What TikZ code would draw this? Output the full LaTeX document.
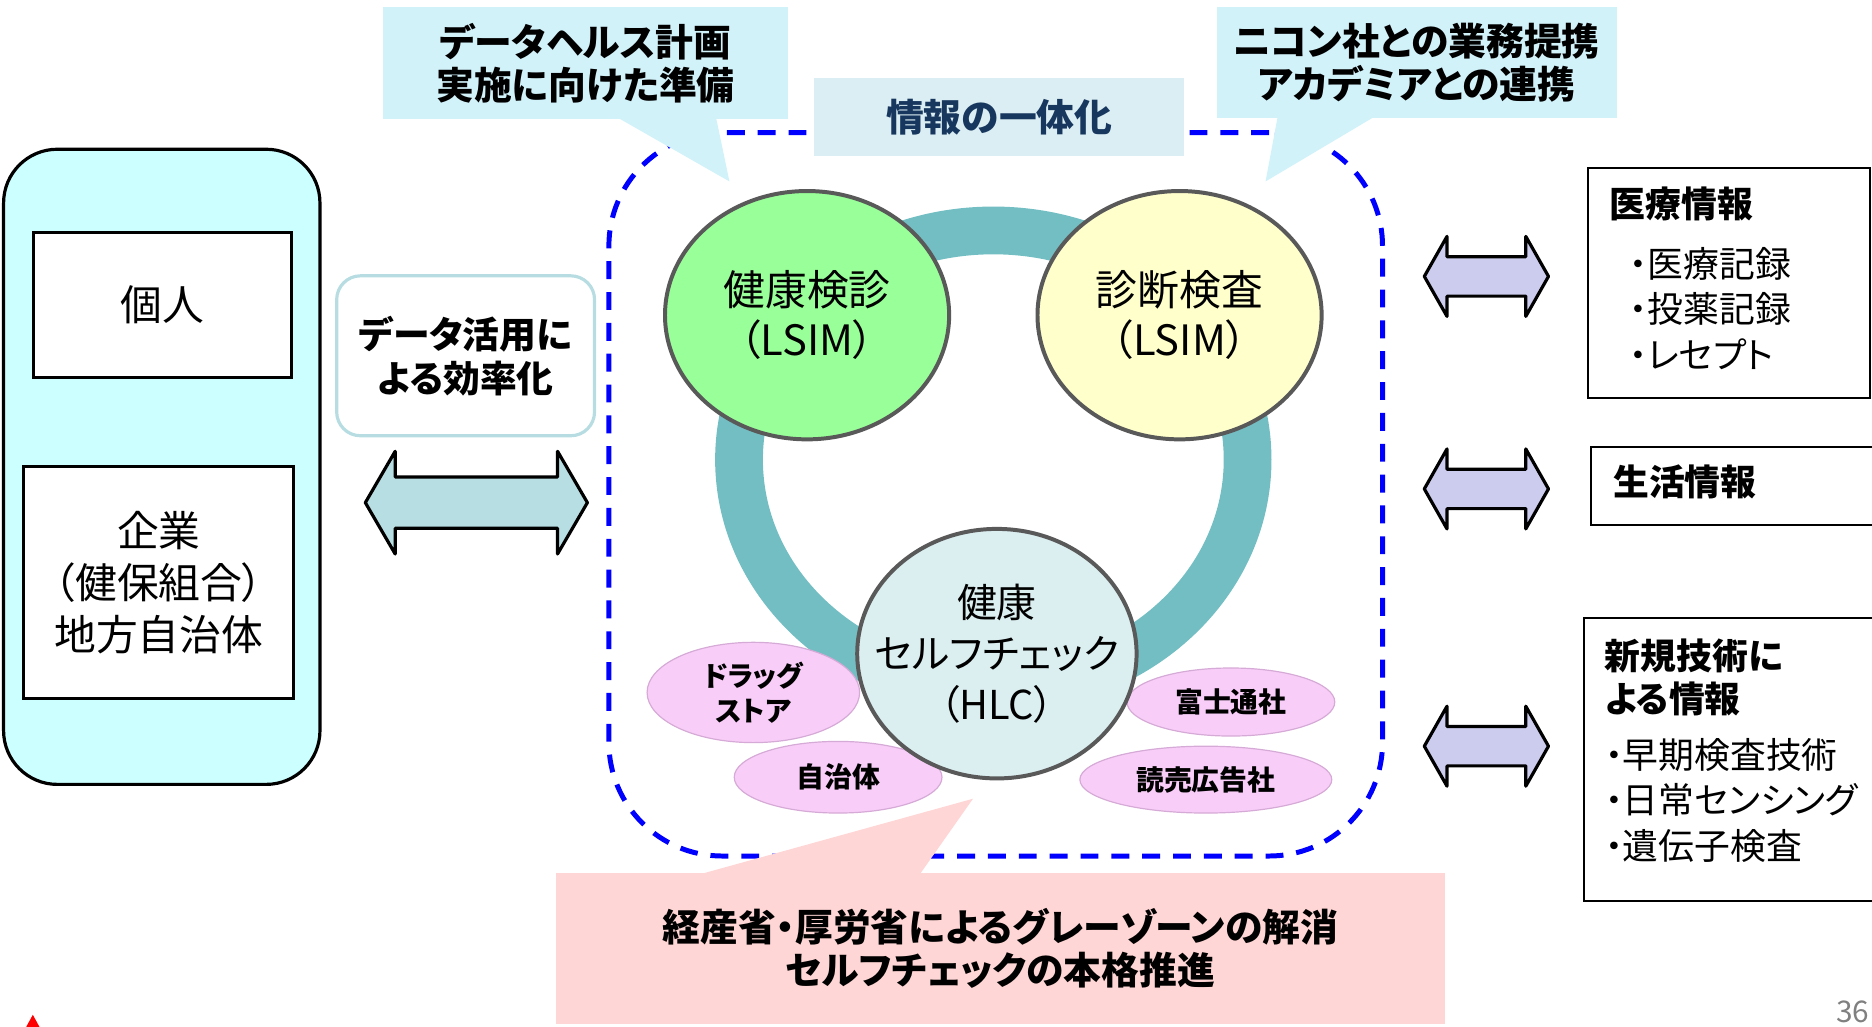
\documentclass[tikz,border=0pt]{standalone}
\usepackage{fontspec}
\setmainfont{Noto Sans CJK JP}[RawFeature=+palt]
\usetikzlibrary{positioning, shapes.geometric}

\definecolor{panelcyan}{RGB}{204,255,255}
\definecolor{callblue}{RGB}{210,242,250}
\definecolor{callpink}{RGB}{255,214,214}
\definecolor{infofill}{RGB}{219,238,243}
\definecolor{infotext}{RGB}{23,55,94}
\definecolor{ringteal}{RGB}{115,190,195}
\definecolor{lsimgreen}{RGB}{153,255,153}
\definecolor{lsimyellow}{RGB}{255,255,204}
\definecolor{hlcfill}{RGB}{219,238,240}
\definecolor{ovalfill}{RGB}{248,206,248}
\definecolor{ovaldraw}{RGB}{214,170,214}
\definecolor{arrowteal}{RGB}{183,222,226}
\definecolor{arrowlav}{RGB}{204,204,238}
\definecolor{softborder}{RGB}{183,221,226}
\definecolor{darkgray1}{RGB}{89,89,89}

\tikzset{
  panel1/.style = {
    shape = rectangle,
    draw = black,
    line width = 1.6pt,
    fill = panelcyan,
    rounded corners = 27pt,
  }
}
\tikzset{
  rect1/.style = {
    shape = rectangle,
    draw = black,
    line width = 1.6pt,
    fill = white,
    align = center,
    font = \fontsize{21}{26.1}\selectfont,
  }
}
\tikzset{
  rect2/.style = {
    shape = rectangle,
    draw = black,
    line width = 1pt,
    fill = white,
  }
}
\tikzset{
  rect3/.style = {
    shape = rectangle,
    draw = softborder,
    line width = 1.6pt,
    fill = white,
    rounded corners = 12pt,
    align = center,
    font = \bfseries\fontsize{18.5}{22.2}\selectfont,
  }
}
\tikzset{
  frame1/.style = {
    shape = rectangle,
    draw = blue,
    line width = 2.5pt,
    dash pattern = on 9pt off 6.5pt,
    rounded corners = 57pt,
  }
}
\tikzset{
  ring1/.style = {
    shape = ellipse,
    draw = ringteal,
    line width = 24pt,
  }
}
\tikzset{
  circle1/.style = {
    shape = ellipse,
    draw = darkgray1,
    line width = 2pt,
    align = center,
    inner sep = 0pt,
    font = \fontsize{21}{25.2}\selectfont,
  }
}
\tikzset{
  oval1/.style = {
    shape = ellipse,
    draw = ovaldraw,
    line width = 0.6pt,
    fill = ovalfill,
    align = center,
    inner sep = 0pt,
    font = \bfseries\fontsize{14}{17.4}\selectfont,
  }
}
\tikzset{
  call1/.style = {
    shape = rectangle,
    fill = callblue,
    align = center,
    font = \bfseries\fontsize{19}{21.6}\selectfont,
  }
}
\tikzset{
  text1/.style = {align = center, inner sep = 0pt, font = \fontsize{20}{25.8}\selectfont},
  text2/.style = {align = left, inner sep = 0pt, anchor = west, font = \fontsize{18}{22.8}\selectfont},
}
\tikzset{
  arrow1/.style = {
    draw = black, line width = 1.6pt, line join = round,
  }
}

\begin{document}
\begin{tikzpicture}[x = 0.6pt, y = -0.6pt]
        \useasboundingbox (0,0) rectangle (1568,860);
        % left side
        \node[panel1, minimum width = 159pt, minimum height = 319.2pt](l0) at (135.5,391){};
        \node[rect1, minimum width = 129.6pt, minimum height = 72.6pt](l1) at (136,255.5){個人};
        \node[rect1, minimum width = 135.6pt, minimum height = 116.4pt](l2) at (133,488){企業\\（健保組合）\\地方自治体};
        \node[rect3, minimum width = 129.6pt, minimum height = 80.4pt](l3) at (390,298){データ活用に\\よる効率化};
        \draw[arrow1, fill = arrowteal](306,421) -- (331,378) -- (331,399.5) -- (467,399.5) -- (467,378) -- (492,421) -- (467,464) -- (467,442.5) -- (331,442.5) -- (331,464) -- cycle;

        % center
        \node[frame1, minimum width = 388.8pt, minimum height = 363.6pt](f1) at (834,414){};
        \node[ring1, minimum width = 255.6pt, minimum height = 230.4pt](ring) at (832,385){};
        \node[circle1, fill = lsimgreen, minimum width = 142.8pt, minimum height = 124.8pt](c1) at (676,264){健康検診\\（LSIM）};
        \node[circle1, fill = lsimyellow, minimum width = 142.8pt, minimum height = 124.8pt](c2) at (988,264){診断検査\\（LSIM）};
        \node[oval1, minimum width = 106.8pt, minimum height = 50.4pt](o1) at (631,580){ドラッグ\\ストア};
        \node[oval1, minimum width = 104.4pt, minimum height = 36pt](o2) at (702,651){自治体};
        \node[oval1, minimum width = 104.4pt, minimum height = 34.2pt](o3) at (1031,588){富士通社};
        \node[oval1, minimum width = 126.6pt, minimum height = 33.6pt](o4) at (1010,653){読売広告社};
        \node[circle1, fill = hlcfill, minimum width = 140.4pt, minimum height = 125.4pt](c3) at (835,547.5){};
        \node[text1](c3t) at (c3){健康\\セルフチェック\\（HLC）};
        \node[call1, fill = infofill, text = infotext, minimum width = 186pt, minimum height = 39.6pt](i1) at (837,98){情報の一体化};

        % callouts
        \node[call1, minimum width = 203.4pt, minimum height = 56.4pt](t1) at (490.5,53){データヘルス計画\\実施に向けた準備};
        \coordinate (t1p) at (611,152);
        \fill[callblue]([xshift = 17.1pt, yshift = 0.5pt]t1.south) -- (t1p) -- ([xshift = 65.7pt, yshift = 0.5pt]t1.south) -- cycle;
        \node[call1, minimum width = 201pt, minimum height = 55.8pt](t2) at (1186.5,52.5){ニコン社との業務提携\\アカデミアとの連携};
        \coordinate (t2p) at (1060,152);
        \fill[callblue]([xshift = -69.9pt, yshift = 0.5pt]t2.south) -- (t2p) -- ([xshift = -21.9pt, yshift = 0.5pt]t2.south) -- cycle;
        \node[call1, fill = callpink, minimum width = 446.4pt, minimum height = 76.2pt](t3) at (838,794.5){経産省・厚労省によるグレーゾーンの解消\\セルフチェックの本格推進};
        \coordinate (t3p) at (815,669);
        \fill[callpink]([xshift = -149.4pt, yshift = -0.5pt]t3.north) -- (t3p) -- ([xshift = -40.2pt, yshift = -0.5pt]t3.north) -- cycle;

        % right side
        \draw[arrow1, fill = arrowlav, shift = {(1245,231.5)}](-52,0) -- (-33,-33.5) -- (-33,-16.5) -- (33,-16.5) -- (33,-33.5) -- (52,0) -- (33,33.5) -- (33,16.5) -- (-33,16.5) -- (-33,33.5) -- cycle;
        \draw[arrow1, fill = arrowlav, shift = {(1245,409.5)}](-52,0) -- (-33,-33.5) -- (-33,-16.5) -- (33,-16.5) -- (33,-33.5) -- (52,0) -- (33,33.5) -- (33,16.5) -- (-33,16.5) -- (-33,33.5) -- cycle;
        \draw[arrow1, fill = arrowlav, shift = {(1245,625)}](-52,0) -- (-33,-33.5) -- (-33,-16.5) -- (33,-16.5) -- (33,-33.5) -- (52,0) -- (33,33.5) -- (33,16.5) -- (-33,16.5) -- (-33,33.5) -- cycle;
        \node[rect2, minimum width = 141.6pt, minimum height = 115.2pt](r1) at (1448,237){};
        \node[text2](r1t) at (1348,233){\textbf{医療情報}\\[7.2pt]\hspace*{10pt}・医療記録\\\hspace*{10pt}・投薬記録\\\hspace*{10pt}・レセプト};
        \node[rect2, minimum width = 148.2pt, minimum height = 39.6pt](r2) at (1456.5,407){};
        \node[text2, font = \bfseries\fontsize{18}{22.8}\selectfont](r2t) at (1351,404){生活情報};
        \node[rect2, minimum width = 151.8pt, minimum height = 142.2pt](r3) at (1453.5,636.5){};
        \node[text2](r3t) at (1344,628.5){\textbf{新規技術に}\\[-1.2pt]\textbf{よる情報}\\[5.4pt]・早期検査技術\\・日常センシング\\・遺伝子検査};

        % footer
        \fill[red](22,860) -- (33,860) -- (27.5,850) -- cycle;
        \node[anchor = south east, inner sep = 0pt, text = gray, font = \fontsize{15}{17}\selectfont](pg) at (1566,857){36};
    \end{tikzpicture}
\end{document}
